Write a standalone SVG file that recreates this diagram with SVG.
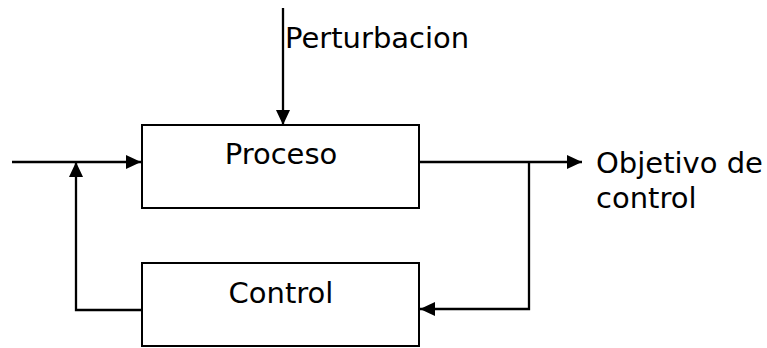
<svg xmlns="http://www.w3.org/2000/svg" width="767" height="348" viewBox="0 0 767 348">
<style>
.box{fill:#fff;stroke:#000;stroke-width:2}
.ln{fill:none;stroke:#000;stroke-width:2.3}
.t{font-family:"DejaVu Sans",Verdana,sans-serif;font-size:29px;fill:#000}
</style>
<defs>
<marker id="ah" viewBox="0 0 15 14" refX="15" refY="7" markerWidth="15" markerHeight="14" markerUnits="userSpaceOnUse" orient="auto">
<path d="M0,0 L15,7 L0,14 Z" fill="#000"/>
</marker>
</defs>
<rect width="767" height="348" fill="#fff"/>
<g id="proceso">
<rect class="box" x="142" y="125" width="277" height="83"/>
<text class="t" x="281" y="164" text-anchor="middle">Proceso</text>
</g>
<g id="control">
<rect class="box" x="142" y="263" width="277" height="83"/>
<text class="t" x="281" y="303" text-anchor="middle">Control</text>
</g>
<g id="perturbacion">
<text class="t" x="285" y="48">Perturbacion</text>
</g>
<g id="objetivo">
<text class="t" x="596" y="173">Objetivo de</text>
<text class="t" x="596" y="208">control</text>
</g>
<g id="connectors">
<line class="ln" x1="283" y1="8" x2="283" y2="125" marker-end="url(#ah)"/>
<line class="ln" x1="12" y1="162" x2="141" y2="162" marker-end="url(#ah)"/>
<polyline class="ln" points="141,310 76,310 76,162" marker-end="url(#ah)"/>
<line class="ln" x1="419" y1="162" x2="582" y2="162" marker-end="url(#ah)"/>
<polyline class="ln" points="529,162 529,309 420,309" marker-end="url(#ah)"/>
</g>
</svg>
